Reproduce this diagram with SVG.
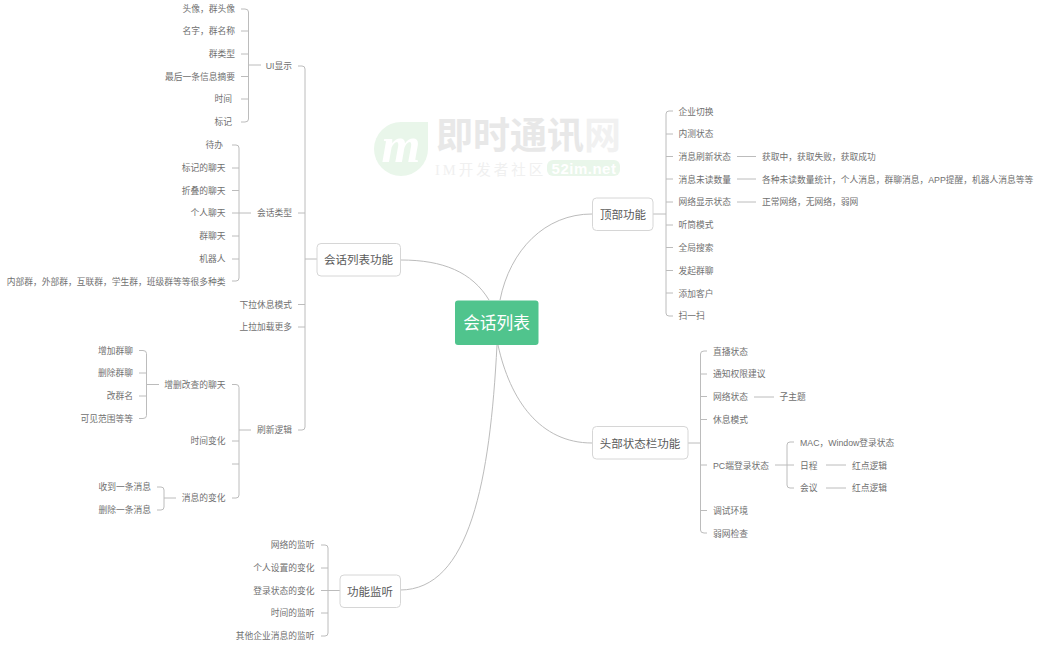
<svg xmlns="http://www.w3.org/2000/svg" width="1037" height="645" viewBox="0 0 1037 645">
<style>
text{font-family:"Liberation Sans","Noto Sans CJK SC",sans-serif;dominant-baseline:central}
.s{font-size:8.75px;fill:#707070}
.e{text-anchor:end}
.mc{font-size:11.5px;fill:#5a5a5a;text-anchor:middle}
.b{fill:#fff;stroke:#d6d6d6;stroke-width:1}
path{fill:none;stroke:#bcbcbc;stroke-width:1}
#watermark path{stroke:none}
</style>
<rect width="1037" height="645" fill="#fff"/>
<g id="watermark">
<path d="M401 122H428V149A27 27 0 1 1 401 122Z" style="fill:#e9f6ea"/>
<text x="401" y="145" style="font-family:'Liberation Serif',serif;font-size:50px;font-style:italic;font-weight:bold;fill:#fff;text-anchor:middle">m</text>
<text x="436" y="136.500" style="font-size:37px;font-weight:bold;fill:#e8e8e8">即时通讯</text>
<text x="584" y="136.500" style="font-size:37px;font-weight:bold;fill:#f1f1f1">网</text>
<text x="435" y="170" style="font-size:14.500px;letter-spacing:3px;fill:#f0f0f0;font-family:'Liberation Serif','Noto Sans CJK SC',serif">IM开发者社区</text>
<rect x="547" y="160" width="73" height="16" rx="6" style="fill:#e9f6ea"/>
<text x="584" y="168.500" style="font-size:15px;font-weight:bold;letter-spacing:.5px;fill:#fff;text-anchor:middle">52im.net</text>
</g>
<g id="connectors">
<path d="M489 300C472 272 443 260 401 260"/>
<path d="M500 300C510 250 545 214 592 214"/>
<path d="M498 345C510 400 540 443 592 443"/>
<path d="M497 345C490 480 470 590 400 590"/>
<path d="M298 66H302Q305 66 305 69V427Q305 430 302 430H298"/>
<path d="M298 213H305M298 304.500H305M298 327H305M305 259H317"/>
<path d="M241 9H245Q248.500 9 248.500 12V119Q248.500 122 245 122H241"/>
<path d="M241 31H248.500M241 54H248.500M241 76.500H248.500M241 99H248.500M248.500 65H261"/>
<path d="M232 145H236Q239 145 239 148V278Q239 281 236 281H232"/>
<path d="M232 168H239M232 190.500H239M232 236H239M232 259H239M232 213H251"/>
<path d="M232 384.500H236Q239 384.500 239 387.500V495Q239 498 236 498H232"/>
<path d="M232 441H239M232 464H239M239 430H251"/>
<path d="M139 350.500H143Q146.500 350.500 146.500 353.500V415.500Q146.500 418.500 143 418.500H139"/>
<path d="M139 373H146.500M139 396H146.500M146.500 384.500H159"/>
<path d="M157 487H161Q164 487 164 490V507Q164 510 161 510H157"/>
<path d="M164 498H176"/>
<path d="M321 545H325Q328 545 328 548V633Q328 636 325 636H321"/>
<path d="M321 568H328M321 613H328M321 590.500H340"/>
<path d="M673 111H669Q666 111 666 114V313Q666 316 669 316H673"/>
<path d="M666 134H673M666 156.500H673M666 179H673M666 202H673M666 225H673M666 247.500H673M666 270.500H673M666 293H673M653 214H666"/>
<path d="M737 156.500H756M737 179H756M737 202H756"/>
<path d="M707 351H704Q700.500 351 700.500 354V530Q700.500 533 704 533H707"/>
<path d="M700.500 374H707M700.500 396.500H707M700.500 419.500H707M700.500 465H707M700.500 510.500H707M688 443H700.500"/>
<path d="M754 397H774M775 465H794M794 442H790Q787 442 787 445V485Q787 488 790 488H794M826 465H846M826 488H846"/>
</g>
<g id="root"><rect x="455" y="300.500" width="83.500" height="44.500" rx="3" fill="#50c48d"/><text x="496.500" y="323.500" style="font-size:16.700px;fill:#fff;text-anchor:middle">会话列表</text></g>
<g id="n-list"><rect class="b" x="317" y="243.500" width="83.500" height="32.500" rx="4"/><text class="mc" x="358.500" y="260">会话列表功能</text></g>
<g id="n-top"><rect class="b" x="592.500" y="198" width="60.500" height="32.500" rx="4"/><text class="mc" x="623" y="214.500">顶部功能</text></g>
<g id="n-head"><rect class="b" x="592.500" y="426.500" width="95.500" height="32.500" rx="4"/><text class="mc" x="640" y="443.500">头部状态栏功能</text></g>
<g id="n-mon"><rect class="b" x="340" y="575" width="60.500" height="32.500" rx="4"/><text class="mc" x="370" y="591.500">功能监听</text></g>
<g id="t-list">
<text class="s e" x="235" y="8.500">头像，群头像</text>
<text class="s e" x="235" y="31">名字，群名称</text>
<text class="s e" x="235" y="53.500">群类型</text>
<text class="s e" x="235" y="76.500">最后一条信息摘要</text>
<text class="s e" x="232" y="99">时间</text>
<text class="s e" x="232" y="122">标记</text>
<text class="s e" x="292" y="65.500">UI显示</text>
<text class="s e" x="223" y="145">待办</text>
<text class="s e" x="225.500" y="168">标记的聊天</text>
<text class="s e" x="225.500" y="190.500">折叠的聊天</text>
<text class="s e" x="225.500" y="213">个人聊天</text>
<text class="s e" x="225.500" y="236">群聊天</text>
<text class="s e" x="225.500" y="259">机器人</text>
<text class="s e" x="225.500" y="281.500">内部群，外部群，互联群，学生群，班级群等等很多种类</text>
<text class="s e" x="292" y="213">会话类型</text>
<text class="s e" x="292" y="304.500">下拉休息模式</text>
<text class="s e" x="292" y="327">上拉加载更多</text>
<text class="s e" x="292" y="430">刷新逻辑</text>
<text class="s e" x="225.500" y="384.500">增删改查的聊天</text>
<text class="s e" x="225.500" y="441">时间变化</text>
<text class="s e" x="225.500" y="498">消息的变化</text>
<text class="s e" x="133" y="350.500">增加群聊</text>
<text class="s e" x="133" y="373">删除群聊</text>
<text class="s e" x="133" y="396">改群名</text>
<text class="s e" x="133" y="418.500">可见范围等等</text>
<text class="s e" x="151" y="487">收到一条消息</text>
<text class="s e" x="151" y="510">删除一条消息</text>
</g>
<g id="t-mon">
<text class="s e" x="314.500" y="545">网络的监听</text>
<text class="s e" x="314.500" y="567.500">个人设置的变化</text>
<text class="s e" x="314.500" y="590.500">登录状态的变化</text>
<text class="s e" x="314.500" y="613">时间的监听</text>
<text class="s e" x="314.500" y="636">其他企业消息的监听</text>
</g>
<g id="t-top">
<text class="s" x="678.500" y="111.500">企业切换</text>
<text class="s" x="678.500" y="134">内测状态</text>
<text class="s" x="678.500" y="157">消息刷新状态</text>
<text class="s" x="678.500" y="179.500">消息未读数量</text>
<text class="s" x="678.500" y="202">网络显示状态</text>
<text class="s" x="678.500" y="225">听筒模式</text>
<text class="s" x="678.500" y="248">全局搜索</text>
<text class="s" x="678.500" y="270.500">发起群聊</text>
<text class="s" x="678.500" y="293.500">添加客户</text>
<text class="s" x="678.500" y="316">扫一扫</text>
<text class="s" x="762" y="157">获取中，获取失败，获取成功</text>
<text class="s" x="762" y="179.500">各种未读数量统计，个人消息，群聊消息，APP提醒，机器人消息等等</text>
<text class="s" x="762" y="202">正常网络，无网络，弱网</text>
</g>
<g id="t-head">
<text class="s" x="713" y="351.500">直播状态</text>
<text class="s" x="713" y="374">通知权限建议</text>
<text class="s" x="713" y="397">网络状态</text>
<text class="s" x="713" y="419.500">休息模式</text>
<text class="s" x="713" y="465.500">PC端登录状态</text>
<text class="s" x="713" y="511">调试环境</text>
<text class="s" x="713" y="533.500">弱网检查</text>
<text class="s" x="779.500" y="397">子主题</text>
<text class="s" x="800" y="442.500">MAC，Window登录状态</text>
<text class="s" x="800" y="465.500">日程</text>
<text class="s" x="800" y="488">会议</text>
<text class="s" x="852" y="465.500">红点逻辑</text>
<text class="s" x="852" y="488">红点逻辑</text>
</g>
</svg>
